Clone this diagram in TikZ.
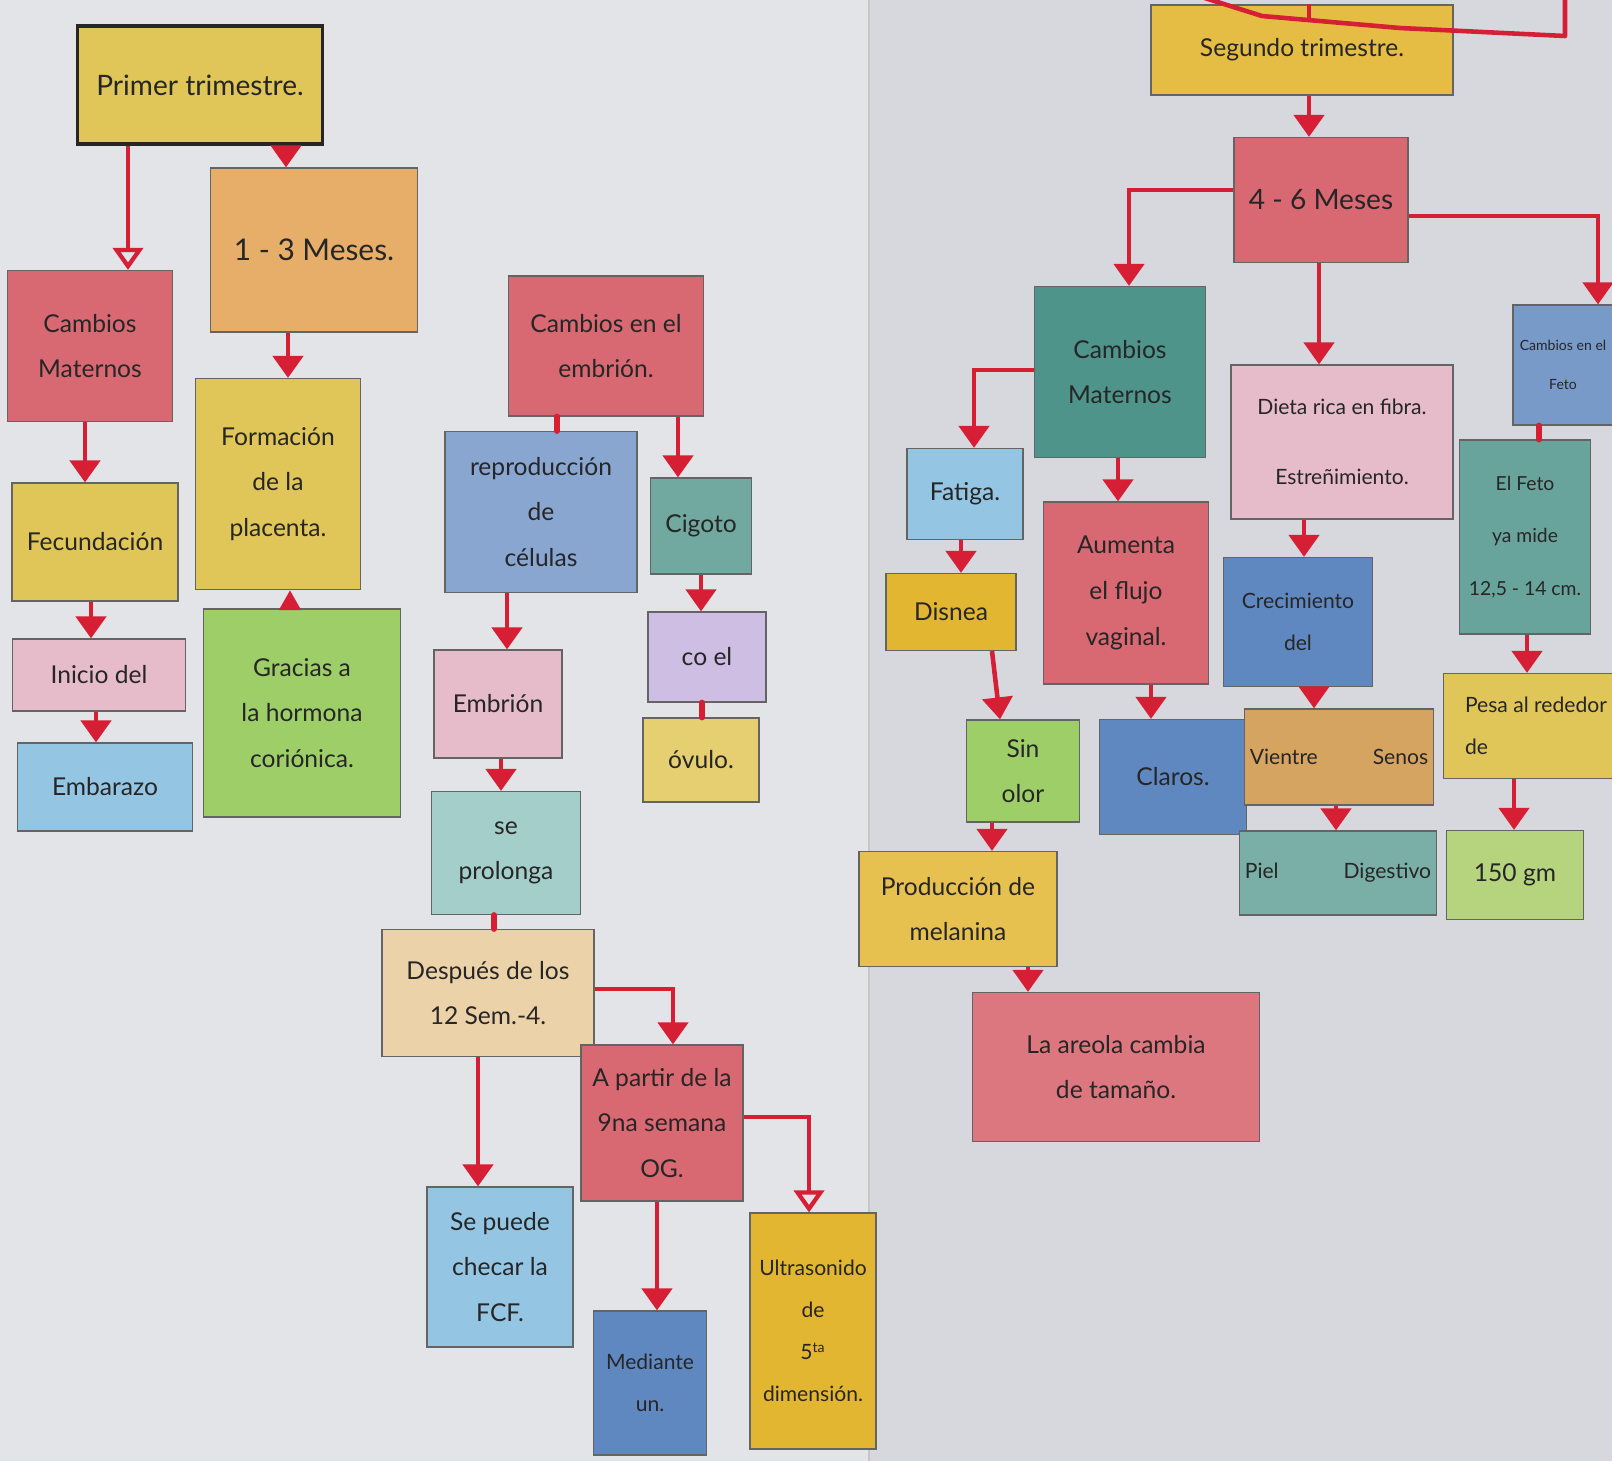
\documentclass[tikz,border=0pt]{standalone}
\usepackage{fontspec}
\setmainfont{Lato}
\usetikzlibrary{positioning,arrows.meta}

\definecolor{paper}{RGB}{226,228,232}
\definecolor{paperdark}{RGB}{214,216,222}
\definecolor{pencil}{RGB}{100,100,100}
\definecolor{redpen}{RGB}{214,30,52}
\definecolor{crayonyellow}{RGB}{224,198,88}
\definecolor{crayongold}{RGB}{226,182,48}
\definecolor{crayonorange}{RGB}{230,174,104}
\definecolor{crayonred}{RGB}{216,104,114}
\definecolor{crayonpink}{RGB}{230,188,202}
\definecolor{crayonlblue}{RGB}{148,198,228}
\definecolor{crayonblue}{RGB}{96,136,192}
\definecolor{crayonteal}{RGB}{78,148,138}
\definecolor{crayonlteal}{RGB}{164,206,202}
\definecolor{crayongreen}{RGB}{158,206,104}
\definecolor{crayonlgreen}{RGB}{182,212,126}
\definecolor{crayonlilac}{RGB}{206,190,228}
\definecolor{crayonpeach}{RGB}{236,210,168}
\definecolor{crayontan}{RGB}{212,164,96}

\newcommand{\hand}{\fontsize{14}{26}\selectfont}
\newcommand{\handsmall}{\fontsize{12}{24}\selectfont}

\tikzset{
  box/.style={draw=pencil, line width=0.7pt, align=center, inner sep=3pt, font=\hand, text=black!85},
  sz/.style 2 args={minimum width=#1*0.02cm, minimum height=#2*0.02cm},
  link/.style={draw=redpen, line width=2.6pt, -{Triangle[width=0.6cm,length=0.44cm]}},
  hollow/.style={draw=redpen, line width=2.4pt, -{Triangle[open,width=0.6cm,length=0.44cm]}},
  drop/.style={draw=redpen, line width=2.6pt, -{Triangle[width=0.42cm,length=0.4cm]}},
  stub/.style={draw=redpen, line width=3.4pt, line cap=round},
}

\begin{document}
\begin{tikzpicture}[x=0.02cm,y=-0.02cm]
    \useasboundingbox (0,0) rectangle (1612,1461);
    \clip (0,0) rectangle (1612,1461);
    % paper
    \fill[paper] (0,0) rectangle (1612,1461);
    \fill[paperdark] (869,0) rectangle (1612,1461);
    \draw[black!22, line width=1pt] (869,0) -- (869,1461);

    % first trimester
    \node[box, sz={245}{118}, fill=crayonyellow, draw=black!85, line width=2pt, font=\fontsize{16}{26}\selectfont] (primer) at (200,85) {Primer trimestre.};
    \node[box, sz={207}{164}, fill=crayonorange, font=\fontsize{17}{26}\selectfont] (meses1) at (314,250) {1 - 3 Meses.};
    \node[box, sz={165}{151}, fill=crayonred] (matL) at (90,346) {Cambios\\Maternos};
    \node[box, sz={166}{118}, fill=crayonyellow] (fecun) at (95,542) {Fecundación};
    \node[box, sz={173}{72}, fill=crayonpink] (inicio) at (99,675) {Inicio del};
    \node[box, sz={175}{88}, fill=crayonlblue] (embarazo) at (105,787) {Embarazo};
    \node[box, sz={165}{211}, fill=crayonyellow] (placenta) at (278,484) {Formación\\de la\\placenta.};
    \node[box, sz={197}{208}, fill=crayongreen] (hormona) at (302,713) {Gracias a\\la hormona\\coriónica.};

    % embryo
    \node[box, sz={195}{140}, fill=crayonred] (cembrion) at (606,346) {Cambios en el\\embrión.};
    \node[box, sz={192}{161}, fill=crayonblue!75] (reprod) at (541,512) {reproducción\\de\\células};
    \node[box, sz={101}{96}, fill=crayonteal!80] (cigoto) at (701,526) {Cigoto};
    \node[box, sz={118}{90}, fill=crayonlilac] (coel) at (707,657) {co el};
    \node[box, sz={116}{84}, fill=crayonyellow!85] (ovulo) at (701,760) {óvulo.};
    \node[box, sz={128}{108}, fill=crayonpink] (embrion) at (498,704) {Embrión};
    \node[box, sz={149}{123}, fill=crayonlteal] (prolonga) at (506,853) {se\\prolonga};
    \node[box, sz={212}{127}, fill=crayonpeach] (despues) at (488,993) {Después de los\\12 Sem.-4.};
    \node[box, sz={162}{156}, fill=crayonred] (apartir) at (662,1123) {A partir de la\\9na semana\\OG.};
    \node[box, sz={146}{160}, fill=crayonlblue] (fcf) at (500,1267) {Se puede\\checar la\\FCF.};
    \node[box, sz={113}{144}, fill=crayonblue, font=\handsmall] (mediante) at (650,1383) {Mediante\\un.};
    \node[box, sz={126}{236}, fill=crayongold, font=\handsmall] (ultra) at (813,1331) {Ultrasonido\\de\\5\textsuperscript{ta}\\dimensión.};

    % second trimester
    \node[box, sz={302}{90}, fill=crayongold!90] (segundo) at (1302,50) {Segundo trimestre.};
    \node[box, sz={174}{125}, fill=crayonred, font=\fontsize{16}{26}\selectfont] (meses4) at (1321,200) {4 - 6 Meses};
    \node[box, sz={171}{171}, fill=crayonteal] (matR) at (1120,372) {Cambios\\Maternos};
    \node[box, sz={222}{154}, fill=crayonpink, font=\fontsize{12}{40}\selectfont] (dieta) at (1342,442) {Dieta rica en fibra.\\Estreñimiento.};
    \node[box, sz={100}{120}, fill=crayonblue!85, inner sep=1pt, font=\fontsize{8}{22}\selectfont] (cfeto) at (1563,365) {Cambios en el\\Feto};
    \node[box, sz={116}{91}, fill=crayonlblue] (fatiga) at (965,494) {Fatiga.};
    \node[box, sz={130}{77}, fill=crayongold] (disnea) at (951,612) {Disnea};
    \node[box, sz={165}{182}, fill=crayonred] (flujo) at (1126,593) {Aumenta\\el flujo\\vaginal.};
    \node[box, sz={149}{129}, fill=crayonblue, font=\handsmall] (crecim) at (1298,622) {Crecimiento\\del};
    \node[box, sz={131}{194}, fill=crayonteal!85, font=\fontsize{11}{30}\selectfont] (mide) at (1525,537) {El Feto\\ya mide\\12,5 - 14 cm.};
    \node[box, sz={113}{102}, fill=crayongreen] (olor) at (1023,771) {Sin\\olor};
    \node[box, sz={147}{115}, fill=crayonblue] (claros) at (1173,777) {Claros.};
    \node[box, sz={170}{96}, fill=crayontan, font=\handsmall] (vientre) at (1339,757) {Vientre\hspace{1.1cm}Senos};
    \node[box, sz={188}{84}, fill=crayonteal!75, font=\handsmall] (piel) at (1338,873) {Piel\hspace{1.3cm}Digestivo};
    \node[box, sz={185}{105}, fill=crayonyellow, align=left, font=\handsmall] (pesa) at (1536,726) {Pesa al rededor\\de};
    \node[box, sz={137}{89}, fill=crayonlgreen] (gm) at (1515,875) {150 gm};
    \node[box, sz={198}{115}, fill=crayongold!85] (melanina) at (958,909) {Producción de\\melanina};
    \node[box, sz={287}{149}, fill=crayonred!90] (areola) at (1116,1067) {La areola cambia\\de tamaño.};

    % links, first trimester
    \draw[hollow] (primer.south -| 128,0) -- (matL.north -| 128,0);
    \draw[link] (primer.south -| 286,0) -- (meses1.north -| 286,0);
    \draw[link] (meses1.south -| 288,0) -- (placenta.north -| 288,0);
    \draw[link] (matL.south -| 85,0) -- (fecun.north -| 85,0);
    \draw[link] (fecun.south -| 91,0) -- (inicio.north -| 91,0);
    \draw[link] (inicio.south -| 96,0) -- (embarazo.north -| 96,0);
    \draw[drop] (hormona.north -| 290,0) -- (placenta.south -| 290,0);

    % links, embryo
    \draw[stub] (cembrion.south -| 557,0) -- (reprod.north -| 557,0);
    \draw[link] (cembrion.south -| 678,0) -- (cigoto.north -| 678,0);
    \draw[link] (reprod.south -| 507,0) -- (embrion.north -| 507,0);
    \draw[link] (cigoto.south -| 701,0) -- (coel.north -| 701,0);
    \draw[stub] (coel.south -| 702,0) -- (ovulo.north -| 702,0);
    \draw[link] (embrion.south -| 501,0) -- (prolonga.north -| 501,0);
    \draw[stub] (prolonga.south -| 494,0) -- (despues.north -| 494,0);
    \draw[link] (despues.east |- 0,989) -| (apartir.north -| 673,0);
    \draw[link] (despues.south -| 478,0) -- (fcf.north -| 478,0);
    \draw[link] (apartir.south -| 657,0) -- (mediante.north -| 657,0);
    \draw[hollow] (apartir.east |- 0,1117) -| (ultra.north -| 809,0);

    % links, second trimester
    \coordinate (railL) at (1192,-6);
    \coordinate (railM) at (1309,20);
    \coordinate (railR) at (1565,-6);
    \draw[redpen, line width=2.6pt, line join=round] (railL) -- (1262,16) -- (1400,28) -- (1565,36) -- (railR);
    \draw[redpen, line width=2pt] (railM) -- (segundo.north -| railM);
    \draw[link] (segundo.south -| 1309,0) -- (meses4.north -| 1309,0);
    \draw[link] (meses4.west |- 0,190) -| (matR.north -| 1129,0);
    \draw[link] (meses4.south -| 1319,0) -- (dieta.north -| 1319,0);
    \draw[link] (meses4.east |- 0,216) -| (cfeto.north -| 1598,0);
    \draw[link] (matR.west |- 0,370) -| (fatiga.north -| 974,0);
    \draw[link] (matR.south -| 1118,0) -- (flujo.north -| 1118,0);
    \draw[link] (fatiga.south -| 961,0) -- (disnea.north -| 961,0);
    \draw[link] (disnea.south -| 992,0) -- (olor.north -| 1000,0);
    \draw[link] (flujo.south -| 1151,0) -- (claros.north -| 1151,0);
    \draw[link] (dieta.south -| 1304,0) -- (crecim.north -| 1304,0);
    \draw[link] (crecim.south -| 1314,0) -- (vientre.north -| 1314,0);
    \draw[link] (vientre.south -| 1336,0) -- (piel.north -| 1336,0);
    \draw[stub] (cfeto.south -| 1539,0) -- (mide.north -| 1539,0);
    \draw[link] (mide.south -| 1527,0) -- (pesa.north -| 1527,0);
    \draw[link] (pesa.south -| 1514,0) -- (gm.north -| 1514,0);
    \draw[link] (olor.south -| 992,0) -- (melanina.north -| 992,0);
    \draw[link] (melanina.south -| 1028,0) -- (areola.north -| 1028,0);
\end{tikzpicture}
\end{document}
